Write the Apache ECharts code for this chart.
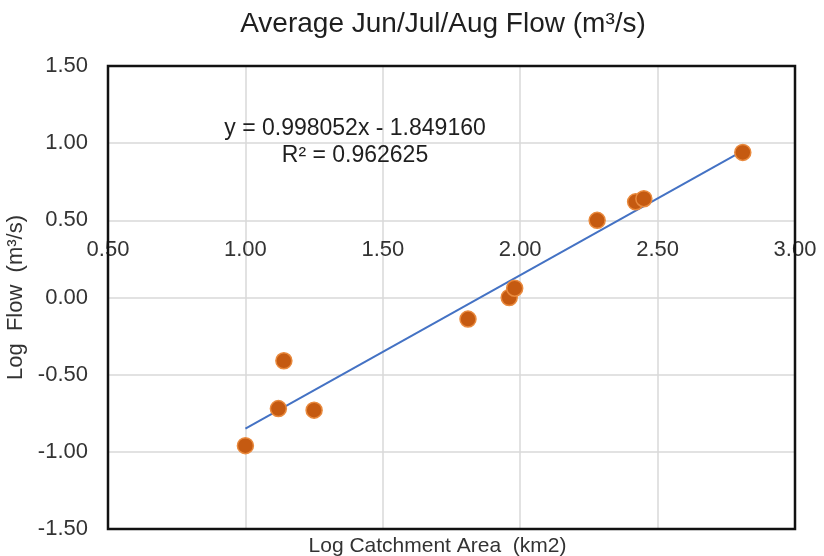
<!DOCTYPE html>
<html>
<head>
<meta charset="utf-8">
<script src="https://cdn.jsdelivr.net/npm/echarts@6/dist/echarts.min.js"></script>
<style>html,body{margin:0;padding:0;background:#fff}#c{width:824px;height:556px}</style>
</head>
<body>
<div id="c"></div>
<script>
var logArea = [1.00, 1.12, 1.14, 1.25, 1.81, 1.96, 1.98, 2.28, 2.42, 2.45, 2.81];
var logFlow = [-0.96, -0.72, -0.41, -0.73, -0.14, 0.00, 0.06, 0.50, 0.62, 0.64, 0.94];
var trendX = [1.00, 2.81];
var trendY = [-0.85, 0.95];
var equationText = 'y = 0.998052x - 1.849160';
var r2Text = 'R² = 0.962625';
var titleText = 'Average Jun/Jul/Aug Flow (m³/s)';
var xName = 'Log Catchment Area  (km2)';
var yName = 'Log  Flow  (m³/s)';

var pts = logArea.map(function (x, i) { return [x, logFlow[i]]; });
var trend = trendX.map(function (x, i) { return [x, trendY[i]]; });
var font = 'Liberation Sans, Arial, sans-serif';
var txt = '#333333';

var chart = echarts.init(document.getElementById('c'));
chart.setOption({
  animation: false,
  title: {
    text: titleText, left: 438, textAlign: 'center', top: 5,
    textStyle: { fontFamily: font, fontSize: 28, fontWeight: 'normal', color: '#1f1f1f' }
  },
  grid: { left: 108, right: 29, top: 66, bottom: 27, outerBoundsMode: 'none', containLabel: false,
    show: false },
  xAxis: [{
    type: 'value', min: 0.5, max: 3.0, interval: 0.5, position: 'bottom',
    name: xName, nameLocation: 'middle', nameGap: 7,
    nameTextStyle: { fontFamily: font, fontSize: 21, color: txt, padding: [0, 28, 0, 0] },
    axisLine: { show: false }, axisTick: { show: false }, axisLabel: { show: false },
    splitLine: { show: true, lineStyle: { color: '#d9d9d9', width: 1.5 } }
  }, {
    type: 'value', min: 0.5, max: 3.0, interval: 0.5, position: 'bottom', offset: -308,
    axisLine: { show: false }, axisTick: { show: false },
    axisLabel: { show: true, margin: 18, fontFamily: font, fontSize: 22, color: txt,
      formatter: function (v) { return v.toFixed(2); } },
    splitLine: { show: false }
  }],
  yAxis: {
    type: 'value', min: -1.5, max: 1.5, interval: 0.5,
    name: yName, nameLocation: 'middle', nameGap: 76, nameRotate: 90,
    nameTextStyle: { fontFamily: font, fontSize: 22, color: txt },
    axisLine: { show: false }, axisTick: { show: false },
    axisLabel: { margin: 20, fontFamily: font, fontSize: 22, color: txt,
      formatter: function (v) { return v.toFixed(2); } },
    splitLine: { show: true, lineStyle: { color: '#d9d9d9', width: 1.5 } }
  },
  graphic: [{
    type: 'rect', shape: { x: 108, y: 66, width: 687, height: 463 },
    style: { fill: 'none', stroke: '#111111', lineWidth: 2.5 }, z: 5, silent: true
  }, {
    type: 'text', x: 355, y: 115,
    style: { text: equationText + '\n' + r2Text, align: 'center', verticalAlign: 'top', fontFamily: font, fontSize: 23, lineHeight: 27, fill: '#1f1f1f' },
    z: 10
  }],
  series: [{
    type: 'line', data: trend, xAxisIndex: 0, showSymbol: false, symbol: 'none',
    lineStyle: { color: '#4472C4', width: 2 }, z: 3
  }, {
    type: 'scatter', data: pts, xAxisIndex: 0, symbolSize: 16,
    itemStyle: { color: '#C55A11', borderColor: '#E98A3E', borderWidth: 1.5, opacity: 1 }, z: 4
  }]
});
</script>
</body>
</html>
